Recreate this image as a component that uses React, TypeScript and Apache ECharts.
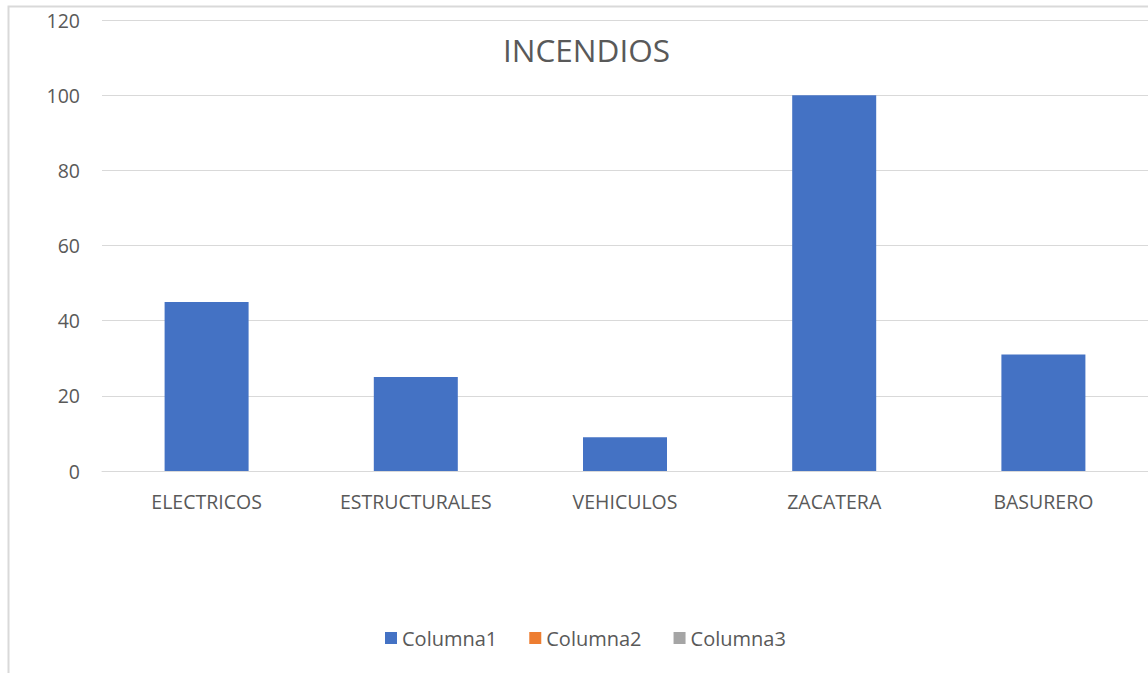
import React, { useEffect, useRef } from "react";
import * as echarts from "echarts";

const categories = ["ELECTRICOS", "ESTRUCTURALES", "VEHICULOS", "ZACATERA", "BASURERO"];
const columna1 = [45, 25, 9, 100, 31];
const columna2: number[] = [];
const columna3: number[] = [];
const seriesNames = ["Columna1", "Columna2", "Columna3"];
const colors = ["#4472C4", "#ED7D31", "#A5A5A5"];

export default function App() {
  const ref = useRef<HTMLDivElement>(null);
  useEffect(() => {
    document.body.style.margin = "0";
    const chart = echarts.init(ref.current!, null, { renderer: "svg" });
    const font = "'Open Sans', sans-serif";
    chart.setOption({
      animation: false,
      textStyle: { fontFamily: font },
      title: {
        text: "INCENDIOS",
        left: 498,
        top: 28,
        textStyle: { fontSize: 31.5, fontWeight: "normal", color: "#595959", fontFamily: font },
      },
      graphic: [
        {
          type: "rect",
          shape: { x: 8.5, y: 6.5, width: 1200, height: 700 },
          style: { fill: "none", stroke: "#d9d9d9", lineWidth: 2 },
          silent: true,
          z: -1,
        },
      ],
      legend: {
        bottom: 20,
        left: 380,
        itemWidth: 12,
        itemHeight: 12,
        itemGap: 32,
        icon: "rect",
        textStyle: { fontSize: 20, color: "#595959", fontFamily: font },
        data: seriesNames,
      },
      grid: { left: 102, right: 0, top: 20, bottom: 202, containLabel: false },
      xAxis: {
        type: "category",
        data: categories,
        axisLine: { lineStyle: { color: "#d9d9d9", width: 1 } },
        axisTick: { show: false },
        axisLabel: { color: "#595959", fontSize: 19.5, margin: 20, fontFamily: font },
      },
      yAxis: {
        type: "value",
        min: 0,
        max: 120,
        interval: 20,
        axisLine: { show: false },
        axisTick: { show: false },
        splitLine: { lineStyle: { color: "#d9d9d9", width: 1 } },
        axisLabel: { color: "#595959", fontSize: 19.5, margin: 22, fontFamily: font },
      },
      series: [
        { name: seriesNames[0], type: "bar", data: columna1, barWidth: 84, itemStyle: { color: colors[0] } },
        { name: seriesNames[1], type: "line", data: columna2, itemStyle: { color: colors[1] }, lineStyle: { color: colors[1] } },
        { name: seriesNames[2], type: "line", data: columna3, itemStyle: { color: colors[2] }, lineStyle: { color: colors[2] } },
      ],
    });
    return () => chart.dispose();
  }, []);
  return <div ref={ref} style={{ width: 1148, height: 673 }} />;
}
